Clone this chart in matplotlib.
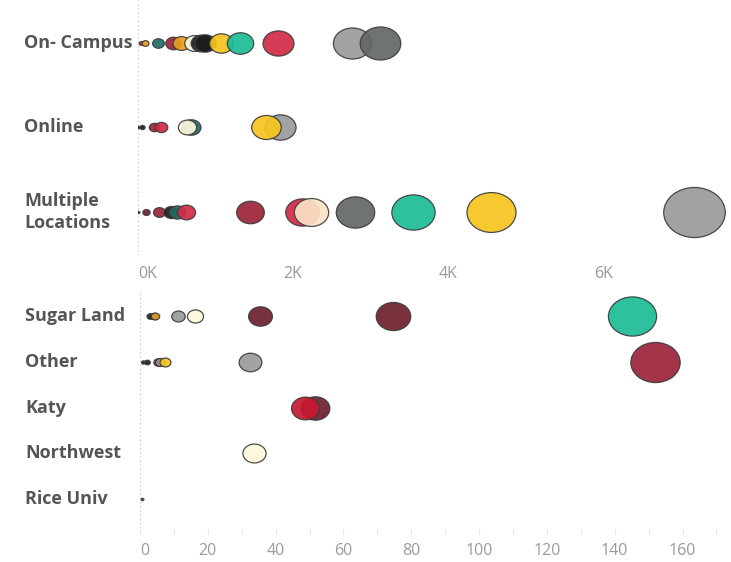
import numpy as np
import matplotlib
matplotlib.use("Agg")
import matplotlib.pyplot as plt
from matplotlib.path import Path
from matplotlib.transforms import blended_transform_factory

plt.rcParams["font.family"] = ["Open Sans", "DejaVu Sans"]

# 色
RED = "#d12a45"
BURG = "#9c2338"
DBURG = "#6d1f2c"
TEAL = "#1bbd95"
DTEAL = "#1f6e62"
YEL = "#f7c51e"
GRAY = "#999a9c"
DGRAY = "#636768"
BLACK = "#1c1c1c"
CREAM = "#fdf8dc"
PEACH = "#fbe3c6"
ORANGE = "#e6a21c"

# 上段 (単位: K)
top_rows = ["On- Campus", "Online", "Multiple\nLocations"]
campus_vals = [0.04, 0.09, 0.26, 0.45, 0.55, 0.72, 0.81, 0.86, 1.07, 1.32, 1.81, 2.76, 3.12]
campus_cols = [RED, ORANGE, DTEAL, BURG, ORANGE, CREAM, BLACK, BLACK, YEL, TEAL, RED, GRAY, DGRAY]
online_vals = [0.0, 0.05, 0.2, 0.3, 0.68, 0.63, 1.83, 1.65]
online_cols = [BLACK, BLACK, BURG, RED, DTEAL, CREAM, GRAY, YEL]
multi_vals = [0.0, 0.1, 0.27, 0.42, 0.5, 0.62, 1.45, 2.12, 2.23, 2.8, 3.55, 4.55, 7.17]
multi_cols = [BLACK, DBURG, BURG, BLACK, DTEAL, RED, BURG, RED, PEACH, DGRAY, TEAL, YEL, GRAY]
top_ticks = [0, 2, 4, 6]
top_ticklabels = ["0K", "2K", "4K", "6K"]

# 下段
bot_rows = ["Sugar Land", "Other", "Katy", "Northwest", "Rice Univ"]
sugar_vals = [3, 4, 4.4, 11.3, 16.2, 35.4, 74.6, 145]
sugar_cols = [BLACK, BLACK, ORANGE, GRAY, CREAM, DBURG, DBURG, TEAL]
other_vals = [1, 2, 5.4, 6, 7.4, 32.4, 152]
other_cols = [BLACK, BLACK, BURG, GRAY, YEL, GRAY, BURG]
katy_vals = [51.6, 48.7]
katy_cols = [DBURG, "#c8182f"]
nw_vals = [33.6]
nw_cols = [CREAM]
rice_vals = [0.5]
rice_cols = [DGRAY]
bot_ticks = list(range(0, 161, 20))

# 横長の楕円マーカー
circ = Path.unit_circle()
ellipse = Path(circ.vertices * np.array([1.23, 1.0]), circ.codes)

W, H = 731, 562
fig = plt.figure(figsize=(W / 100, H / 100), dpi=100)

ax1 = fig.add_axes([138 / W, 1 - 255 / H, 1 - 138 / W, 255 / H])
ax2 = fig.add_axes([140 / W, 1 - 528 / H, 1 - 140 / W, 236 / H])


def draw_row(ax, y, vals, cols, k):
    for v, c in zip(vals, cols):
        ax.scatter([v], [y], s=max(k * v, 4), marker=ellipse, color=c,
                   edgecolors="#3c3c3c", linewidths=0.9, alpha=0.92, zorder=3)


for i, (vals, cols) in enumerate([(campus_vals, campus_cols), (online_vals, online_cols),
                                  (multi_vals, multi_cols)]):
    draw_row(ax1, i, vals, cols, 274)

for i, (vals, cols) in enumerate([(sugar_vals, sugar_cols), (other_vals, other_cols),
                                  (katy_vals, katy_cols), (nw_vals, nw_cols),
                                  (rice_vals, rice_cols)]):
    draw_row(ax2, i, vals, cols, 8.3)

ax1.set_xlim(0, 7.65)
ax1.set_ylim(2.51, -0.51)
ax2.set_xlim(0, 174.3)
ax2.set_ylim(4.63, -0.525)

for ax in (ax1, ax2):
    for sp in ax.spines.values():
        sp.set_visible(False)
    ax.axvline(0, color="#c8c8c8", ls=(0, (1, 2)), lw=1, zorder=1)
    ax.set_yticks([])
    ax.set_facecolor("none")

ax1.set_xticks(top_ticks)
ax1.set_xticklabels(top_ticklabels)
ax1.tick_params(axis="x", length=0, pad=8, labelsize=11.5, labelcolor="#9a9a9a")
ax1.get_xticklabels()[0].set_horizontalalignment("left")

ax2.set_xticks(bot_ticks)
ax2.set_xticks(range(10, 171, 20), minor=True)
ax2.tick_params(axis="x", which="both", length=4, width=0.8, color="#e6e6e6",
                pad=7, labelsize=11.5, labelcolor="#9a9a9a")
ax2.get_xticklabels()[0].set_horizontalalignment("left")

tr1 = blended_transform_factory(fig.transFigure, ax1.transData)
for i, name in enumerate(top_rows):
    ax1.text(24 / W, i, name, transform=tr1, ha="left", va="center",
             fontsize=13, fontweight="bold", color="#555555", linespacing=1.3)

tr2 = blended_transform_factory(fig.transFigure, ax2.transData)
for i, name in enumerate(bot_rows):
    ax2.text(25 / W, i, name, transform=tr2, ha="left", va="center",
             fontsize=13, fontweight="bold", color="#555555")

fig.savefig("out.png", dpi=100)
